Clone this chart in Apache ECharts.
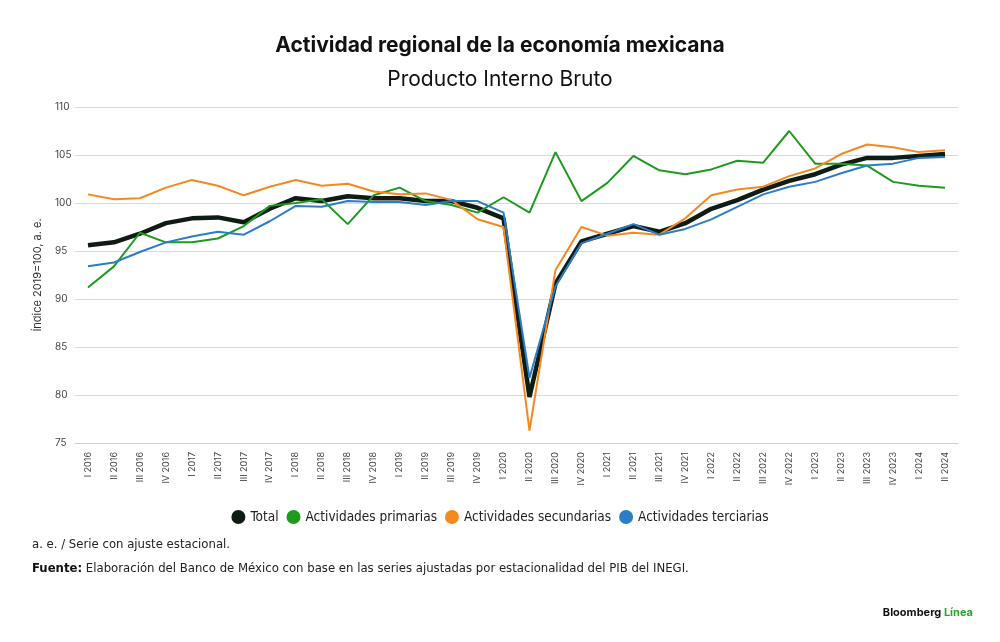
<!DOCTYPE html>
<html>
<head>
<meta charset="utf-8">
<script src="https://cdn.jsdelivr.net/npm/echarts@6/dist/echarts.min.js"></script>
<style>
  html, body { margin: 0; padding: 0; background: #fff; }
  #chart { width: 1000px; height: 642px; }
</style>
</head>
<body>
<div id="chart"></div>
<script>
// trimestres
var quarters = ['I 2016', 'II 2016', 'III 2016', 'IV 2016', 'I 2017', 'II 2017', 'III 2017', 'IV 2017',
  'I 2018', 'II 2018', 'III 2018', 'IV 2018', 'I 2019', 'II 2019', 'III 2019', 'IV 2019',
  'I 2020', 'II 2020', 'III 2020', 'IV 2020', 'I 2021', 'II 2021', 'III 2021', 'IV 2021',
  'I 2022', 'II 2022', 'III 2022', 'IV 2022', 'I 2023', 'II 2023', 'III 2023', 'IV 2023',
  'I 2024', 'II 2024'];

// índice 2019=100, a. e.
var total = [95.6, 95.9, 96.8, 97.9, 98.4, 98.5, 98.0, 99.4, 100.5, 100.2, 100.7, 100.5, 100.5, 100.2, 100.2, 99.5,
  98.4, 79.8, 91.6, 96.0, 96.8, 97.6, 97.0, 97.9, 99.4, 100.3, 101.4, 102.3, 103.0, 104.0, 104.7, 104.7,
  104.9, 105.1];
var primarias = [91.2, 93.4, 96.9, 95.9, 95.9, 96.3, 97.6, 99.7, 100.0, 100.4, 97.8, 100.8, 101.6, 100.2, 99.8, 99.0,
  100.6, 99.0, 105.3, 100.2, 102.1, 104.9, 103.4, 103.0, 103.5, 104.4, 104.2, 107.5, 104.1, 104.1, 103.9, 102.2,
  101.8, 101.6];
var secundarias = [100.9, 100.4, 100.5, 101.6, 102.4, 101.8, 100.8, 101.7, 102.4, 101.8, 102.0, 101.2, 100.9, 101.0, 100.3, 98.3,
  97.5, 76.3, 93.0, 97.5, 96.6, 96.9, 96.7, 98.4, 100.8, 101.4, 101.7, 102.8, 103.6, 105.1, 106.1, 105.8,
  105.3, 105.5];
var terciarias = [93.4, 93.8, 94.9, 95.9, 96.5, 97.0, 96.7, 98.1, 99.7, 99.6, 100.2, 100.1, 100.1, 99.8, 100.2, 100.2,
  99.0, 81.8, 91.3, 95.8, 96.8, 97.8, 96.7, 97.3, 98.3, 99.6, 100.9, 101.7, 102.2, 103.1, 103.9, 104.1,
  104.7, 104.8];

var narrow = "'Liberation Sans Narrow', 'DejaVu Sans Condensed', sans-serif";

var myChart = echarts.init(document.getElementById('chart'));

myChart.setOption({
  backgroundColor: '#fff',
  animation: false,
  title: [
    {
      text: 'Actividad regional de la economía mexicana',
      left: 'center', top: 30,
      textStyle: { fontFamily: 'Inter', fontWeight: 'bold', fontSize: 21, color: '#111' }
    },
    {
      text: 'Producto Interno Bruto',
      left: 'center', top: 64,
      textStyle: { fontFamily: 'Inter', fontWeight: 'normal', fontSize: 21, color: '#111' }
    }
  ],
  legend: {
    top: 505,
    left: 'center',
    icon: 'circle',
    itemWidth: 14,
    itemHeight: 14,
    itemGap: 8,
    textStyle: { fontFamily: narrow, fontSize: 13.5, color: '#222' },
    data: ['Total', 'Actividades primarias', 'Actividades secundarias', 'Actividades terciarias']
  },
  grid: { left: 75, right: 42, top: 107, bottom: 199 },
  xAxis: {
    type: 'category',
    data: quarters,
    boundaryGap: true,
    axisLine: { lineStyle: { color: '#d0d0d0' } },
    axisTick: { show: false },
    axisLabel: {
      rotate: 90, interval: 0, margin: 9,
      fontFamily: 'Inter', fontSize: 9, color: '#444'
    }
  },
  yAxis: {
    type: 'value',
    min: 75, max: 110, interval: 5,
    name: 'Índice 2019=100, a. e.',
    nameLocation: 'middle',
    nameGap: 32,
    nameTextStyle: { fontFamily: 'Inter', fontSize: 11, color: '#333' },
    axisLine: { show: false },
    axisTick: { show: false },
    splitLine: { lineStyle: { color: '#d9d9d9', width: 1 } },
    axisLabel: {
      align: 'left', margin: 20,
      fontFamily: 'Inter', fontSize: 10, color: '#444'
    }
  },
  series: [
    {
      name: 'Total', type: 'line', data: total,
      symbol: 'none', color: '#0f1c13',
      lineStyle: { width: 4.5, color: '#0f1c13' }, z: 2
    },
    {
      name: 'Actividades primarias', type: 'line', data: primarias,
      symbol: 'none', color: '#1e9a1e',
      lineStyle: { width: 2, color: '#1e9a1e' }, z: 3
    },
    {
      name: 'Actividades secundarias', type: 'line', data: secundarias,
      symbol: 'none', color: '#f5891f',
      lineStyle: { width: 2, color: '#f5891f' }, z: 4
    },
    {
      name: 'Actividades terciarias', type: 'line', data: terciarias,
      symbol: 'none', color: '#2a7dc6',
      lineStyle: { width: 2, color: '#2a7dc6' }, z: 5
    }
  ],
  graphic: [
    {
      type: 'text', left: 32, top: 538,
      style: { text: 'a. e. / Serie con ajuste estacional.', fontFamily: narrow, fontSize: 13, fill: '#222' }
    },
    {
      type: 'text', left: 32, top: 562,
      style: {
        text: '{b|Fuente:} Elaboración del Banco de México con base en las series ajustadas por estacionalidad del PIB del INEGI.',
        fontFamily: narrow, fontSize: 13, fill: '#222',
        rich: { b: { fontFamily: narrow, fontSize: 13, fontWeight: 'bold', fill: '#111' } }
      }
    },
    {
      type: 'text', right: 27, top: 607,
      style: {
        text: 'Bloomberg {g|Línea}',
        fontFamily: 'Inter', fontSize: 11, fontWeight: 'bold', fill: '#111',
        rich: { g: { fontFamily: 'Inter', fontSize: 11, fontWeight: 'bold', fill: '#2aa52a' } }
      }
    }
  ]
});

window.onresize = function () {
  myChart.resize();
};
</script>
</body>
</html>
